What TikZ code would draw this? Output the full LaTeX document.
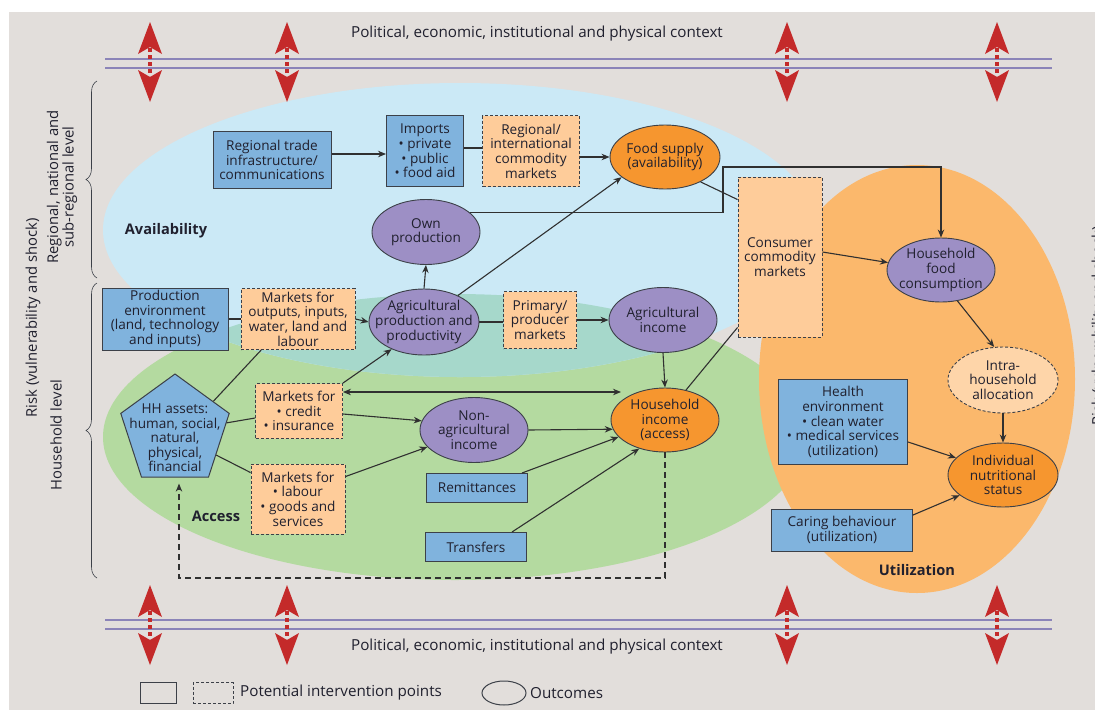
\documentclass[tikz,border=0pt]{standalone}
\usepackage{fontspec}
\setmainfont{Open Sans}
\usetikzlibrary{shapes.geometric,arrows.meta,calc,decorations.pathreplacing}
\definecolor{bgc}{HTML}{E2DEDB}
\definecolor{bluer}{HTML}{CBE9F6}
\definecolor{greenr}{HTML}{B4DAA0}
\definecolor{tealr}{HTML}{A6D8CB}
\definecolor{oranger}{HTML}{FBB86C}
\definecolor{boxblue}{HTML}{80B3DD}
\definecolor{edgec}{HTML}{3C4048}
\definecolor{peach}{HTML}{FECC9A}
\definecolor{purplec}{HTML}{9D8FC5}
\definecolor{orangen}{HTML}{F6962F}
\definecolor{intrac}{HTML}{FED5A9}
\definecolor{redc}{HTML}{C42A2A}
\definecolor{linepc}{HTML}{8B84B8}
\definecolor{txtc}{HTML}{20202E}
\definecolor{arrc}{HTML}{303030}
\begin{document}
\begin{tikzpicture}[x=1pt,y=-1pt,
  every node/.style={font=\fontsize{13.6}{14.6}\selectfont, text=txtc, align=center, inner sep=0pt},
  bbox/.style={rectangle, draw=edgec, line width=1pt, fill=boxblue},
  dbox/.style={rectangle, draw=edgec, line width=0.9pt, dash pattern=on 3pt off 2pt, fill=peach},
  pell/.style={ellipse, draw=edgec, line width=0.9pt, fill=purplec, minimum width=108pt, minimum height=65pt},
  oell/.style={ellipse, draw=edgec, line width=0.9pt, fill=orangen, minimum width=108pt, minimum height=64pt},
  dell/.style={ellipse, draw=edgec, line width=0.9pt, dash pattern=on 3pt off 2pt, fill=intrac, minimum width=110pt, minimum height=66pt},
  arr/.style={draw=arrc, line width=1.1pt, -{Stealth[length=8pt,width=6.5pt]}},
  darr/.style={draw=arrc, line width=1.1pt, {Stealth[length=8pt,width=6.5pt]}-{Stealth[length=8pt,width=6.5pt]}},
  ln/.style={draw=arrc, line width=1.1pt},
  dsh/.style={draw=arrc, line width=1.1pt, dash pattern=on 6pt off 4pt, -{Stealth[length=8pt,width=6.5pt]}},
  lab/.style={font=\bfseries\fontsize{14.6}{16}\selectfont},
  ctx/.style={font=\fontsize{15.2}{17}\selectfont},
  side/.style={rotate=90, font=\fontsize{14.8}{15.6}\selectfont},
  redarr/.pic={
    \fill[redc] (0,22) -- (12,54) -- (0,47) -- (-12,54) -- cycle;
    \fill[redc] (0,102) -- (12,70) -- (0,77) -- (-12,70) -- cycle;
    \draw[redc, line width=4.5pt, dash pattern=on 4pt off 3pt] (0,48) -- (0,76);
  }
]
\useasboundingbox (0,0) rectangle (1095,710);
\fill[bgc] (9,12) rectangle (1095,710);

% regions
\fill[greenr] (455,437) ellipse [x radius=352pt, y radius=143pt];
\fill[bluer] (460,230) ellipse [x radius=357pt, y radius=147pt];
\begin{scope}
  \clip (455,437) ellipse [x radius=352pt, y radius=143pt];
  \fill[tealr] (460,230) ellipse [x radius=357pt, y radius=147pt];
\end{scope}
\fill[oranger] (917,379) ellipse [x radius=158pt, y radius=214pt];

% context lines and arrows
\draw[linepc, line width=1.2pt] (105,59) -- (1052,59) (105,68) -- (1052,68);
\draw[linepc, line width=1.2pt] (105,620) -- (1052,620) (105,629) -- (1052,629);
\foreach \xx in {150,287,787,997} {
  \pic at (\xx,0) {redarr};
  \pic at (\xx,563) {redarr};
}
\node[ctx] (ctxt) at (537,34) {Political, economic, institutional and physical context};
\node[ctx] (ctxb) at (537,647) {Political, economic, institutional and physical context};

% left side
\draw[edgec, line width=0.6pt, decorate, decoration={brace, amplitude=11pt}] (97,278) -- (97,81);
\draw[edgec, line width=0.6pt, decorate, decoration={brace, amplitude=11pt}] (97,578) -- (97,283);
\node[side] (risk) at (33,318) {Risk (vulnerability and shock)};
\node[side] (rnl) at (62,187) {Regional, national and\\sub-regional level};
\node[side] (hhl) at (56,435) {Household level};
\node[side] (riskr) at (1099,326) {Risk (vulnerability and shock)};

% region labels
\node[lab] (lav) at (166,231) {Availability};
\node[lab] (lac) at (216,516) {Access};
\node[lab] (lut) at (917,570) {Utilization};

% nodes
\node[bbox, minimum width=118pt, minimum height=57pt] (rti) at (272,160) {Regional trade\\infrastructure/\\communications};
\node[bbox, minimum width=77pt, minimum height=71pt] (imp) at (425,151) {Imports\\• private\\• public\\• food aid};
\node[dbox, minimum width=97pt, minimum height=71pt] (ricm) at (531,151) {Regional/\\international\\commodity\\markets};
\node[oell, minimum width=110pt, label={center:{Food supply\\(availability)}}] (fs) at (665,157) {};
\node[pell, label={center:{Own\\production}}] (own) at (426,232) {};
\node[pell, minimum width=110pt, minimum height=66pt, label={center:{Agricultural\\production and\\productivity}}] (apt) at (424,322) {};
\node[dbox, minimum width=73pt, minimum height=57pt] (ppm) at (540,320) {Primary/\\producer\\markets};
\node[pell, label={center:{Agricultural\\income}}] (ai) at (663,320) {};
\node[dbox, minimum width=84pt, minimum height=160pt] (ccm) at (780,257) {Consumer\\commodity\\markets};
\node[pell, minimum height=64pt, label={center:{Household\\food\\consumption}}] (hfc) at (941,270) {};
\node[dell, label={center:{Intra-\\household\\allocation}}] (iha) at (1003,380) {};
\node[oell, minimum width=110pt, label={center:{Individual\\nutritional\\status}}] (ins) at (1003,475) {};
\node[bbox, minimum width=129pt, minimum height=85pt] (he) at (843,422) {Health\\environment\\• clean water\\• medical services\\(utilization)};
\node[bbox, minimum width=141pt, minimum height=42pt] (cb) at (842,530) {Caring behaviour\\(utilization)};
\node[bbox, minimum width=126pt, minimum height=62pt] (pe) at (165,319) {Production\\environment\\(land, technology\\and inputs)};
\node[dbox, minimum width=114pt, minimum height=61pt] (mo) at (298,319) {Markets for\\outputs, inputs,\\water, land and\\labour};
\node[regular polygon, regular polygon sides=5, minimum size=114pt, draw=edgec, line width=1pt, fill=boxblue,
      label={[yshift=-7pt]center:{HH assets:\\human, social,\\natural,\\physical,\\financial}}] (hh) at (175,431) {};
\node[dbox, minimum width=87pt, minimum height=55pt] (mc) at (299,411) {Markets for\\• credit\\• insurance};
\node[dbox, minimum width=94pt, minimum height=70pt] (ml) at (298,499) {Markets for\\• labour\\• goods and\\services};
\node[pell, label={center:{Non-\\agricultural\\income}}] (nai) at (474,430) {};
\node[oell, label={center:{Household\\income\\(access)}}] (hi) at (665,420) {};
\node[bbox, minimum width=101pt, minimum height=29pt] (rem) at (477,488) {Remittances};
\node[bbox, minimum width=101pt, minimum height=29pt] (tr) at (476,547) {Transfers};

% helper coordinates
\coordinate (k1) at (723,213);
\coordinate (k2) at (723,167);
\coordinate (k3) at (621,392);
\coordinate (k5) at (665,578);
\coordinate (k6) at (179,578);
\coordinate (hhb) at ($(hh.corner 3)!0.5!(hh.corner 4)$);

% connectors
\draw[arr] (rti.east |- 0,154) -- (imp.west |- 0,154);
\draw[ln] (imp.east |- 0,148) -- (ricm.west |- 0,148);
\draw[arr] (ricm.east |- fs.west) -- (fs.west);
\draw[arr] (own.24) -- (k1 |- own.24) -- (k2) -- (k2 -| hfc.north) -- (hfc.north);
\draw[ln] (fs.-35) -- ($(ccm.north west)+(0,23)$);
\draw[arr] (ccm.east |- 0,252) -- (hfc.172);
\draw[arr] (hfc.-62) -- (iha.105);
\draw[arr] (iha.south) -- (ins.north);
\draw[arr] (he.east |- 0,442) -- (ins.160);
\draw[arr] (cb.east |- 0,515) -- (ins.-155);
\draw[arr] (apt.north) -- (own.south);
\draw[arr] (apt.38) -- (fs.-155);
\draw[ln] (apt.east) -- (ppm.west |- apt.east);
\draw[arr] (ppm.east |- ai.west) -- (ai.west);
\draw[arr] (ai.south) -- (hi.north);
\draw[ln] (hi.55) -- ($(ccm.south west)+(0,-10)$);
\draw[ln] (pe.east) -- (mo.west);
\draw[arr] (mo.east) -- (apt.west);
\draw[ln] ($(hh.corner 1)!0.7!(hh.corner 5)$) -- ($(mo.south west)!0.18!(mo.south east)$);
\draw[arr] (mc.north east) -- (apt.-140);
\draw[darr] (mc.east |- k3) -- (k3);
\draw[arr] (mc.east |- 0,414) -- (nai.170);
\draw[ln] ($(hh.corner 5)!0.15!(hh.corner 4)$) -- ($(mc.west)+(0,7)$);
\draw[ln] ($(hh.corner 5)!0.65!(hh.corner 4)$) -- ($(ml.north west)+(0,9)$);
\draw[arr] ($(ml.north east)+(0,13)$) -- (nai.-160);
\draw[arr] (nai.east) -- (hi.190);
\draw[arr] ($(rem.north east)+(-6,0)$) -- (hi.-160);
\draw[arr] ($(tr.north east)+(-15,0)$) -- (hi.-132);
\draw[dsh] (hi.south) -- (k5) -- (k6) -- ($(k6 |- hhb)+(0,6)$);

% legend
\node[rectangle, draw=edgec, line width=1pt, minimum width=36pt, minimum height=21pt] (lg1) at (158,693) {};
\node[rectangle, draw=edgec, line width=0.9pt, dash pattern=on 3pt off 2pt, minimum width=40pt, minimum height=21pt] (lg2) at (213,693) {};
\node[ctx, anchor=west] (lg3) at (240,693) {Potential intervention points};
\node[ellipse, draw=edgec, line width=1pt, minimum width=44pt, minimum height=24pt] (lg4) at (504,693) {};
\node[ctx, anchor=west] (lg5) at (530,693) {Outcomes};
\end{tikzpicture}
\end{document}
